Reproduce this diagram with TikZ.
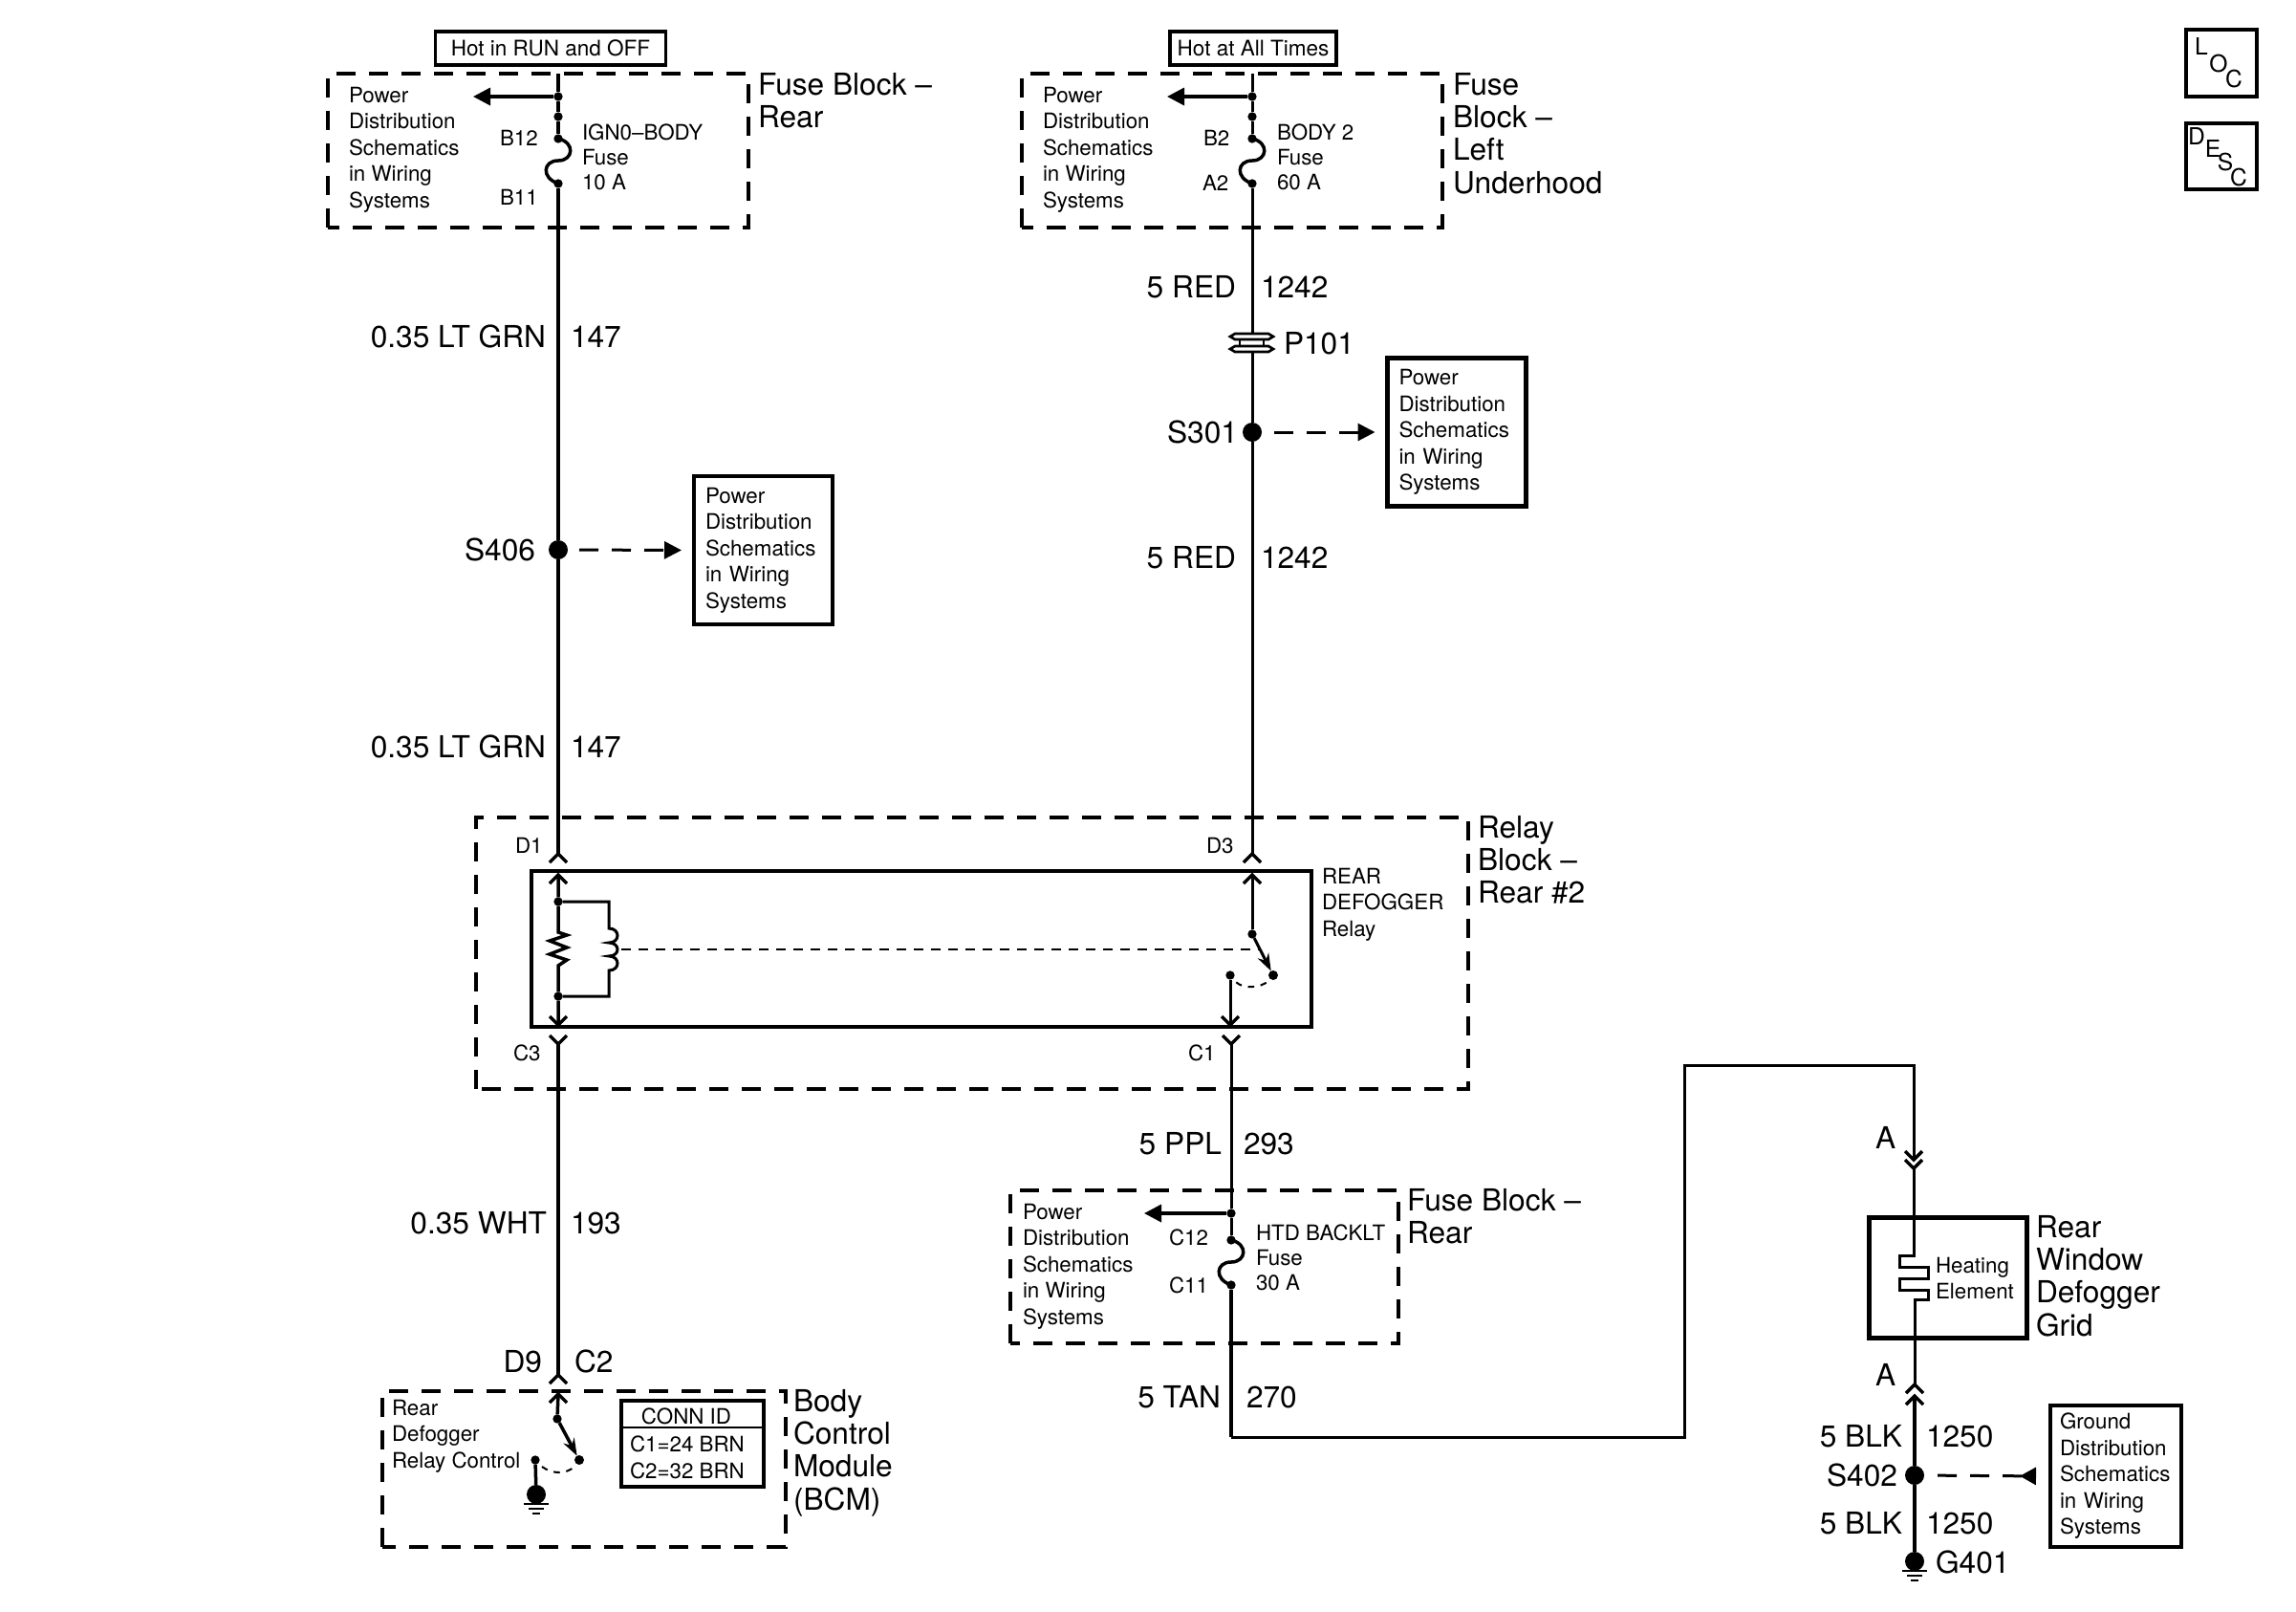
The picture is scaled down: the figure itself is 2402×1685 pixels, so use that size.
\documentclass[tikz,border=0pt]{standalone}
\usepackage{fontspec}
\setmainfont{TeX Gyre Heros}
\usetikzlibrary{arrows.meta}
\tikzset{
  wire/.style={line width=1.05pt},
  thinwire/.style={line width=0.9pt},
  frame/.style={line width=1.35pt},
  dbox/.style={line width=1.4pt,dash pattern=on 6.1pt off 4.1pt},
  lblbig/.style={font=\fontsize{9.5}{10.3}\selectfont,inner sep=0pt,outer sep=0pt,align=left},
  lblsmall/.style={font=\fontsize{6.7}{8.25}\selectfont,inner sep=0pt,outer sep=0pt,align=left},
  lblfuse/.style={font=\fontsize{6.7}{7.8}\selectfont,inner sep=0pt,outer sep=0pt,align=left},
  sdot/.style={circle,fill=black,inner sep=0pt,outer sep=0pt,minimum size=2.8pt},
  bdot/.style={circle,fill=black,inner sep=0pt,outer sep=0pt,minimum size=6pt},
  hotbox/.style={draw,line width=1pt,font=\fontsize{6.75}{8}\selectfont,inner sep=0pt,outer sep=0pt,minimum height=10.5pt},
  pbox/.style={draw,frame,font=\fontsize{6.7}{8.25}\selectfont,align=left,inner xsep=3.6pt,inner ysep=0pt,outer sep=0pt,text width=36.3pt,minimum height=46.5pt},
  locbox/.style={draw,frame,inner sep=0pt,outer sep=0pt,minimum width=22.2pt,minimum height=21pt},
  locl/.style={font=\fontsize{7.4}{8}\selectfont,inner sep=0pt},
  warrow/.style={wire,-{Triangle[length=5.4pt,width=5.4pt]}},
  darrow/.style={line width=0.9pt,dash pattern=on 6pt off 4.2pt,-{Triangle[length=5.4pt,width=5.4pt]}},
  thindash/.style={line width=0.6pt,dash pattern=on 3pt off 2.4pt},
  dotarc/.style={line width=0.6pt,dash pattern=on 2pt off 2pt},
  chevup/.pic={\draw[wire] (-9,9) -- (0,0) -- (9,9);},
  chevdown/.pic={\draw[wire] (-9,-9) -- (0,0) -- (9,-9);},
  fuselink/.pic={\draw[wire] (0,0) .. controls (18,4) and (16,23) .. (0,23) .. controls (-16,23) and (-18,41) .. (0,47);},
  gndsym/.pic={\draw[line width=0.7pt] (-13,0) -- (13,0) (-8,5) -- (8,5) (-4,10) -- (4,10);}
}
\begin{document}
\begin{tikzpicture}[x=0.3pt,y=-0.3pt]
\useasboundingbox (0,0) rectangle (2402,1685);
\fill[white] (0,0) rectangle (2402,1685);

%% ---------- dashed blocks
\draw[dbox] (343,238) -- (343,77) -- (783,77) -- (783,238) -- cycle;
\draw[dbox] (1069,238) -- (1069,77) -- (1509,77) -- (1509,238) -- cycle;
\draw[dbox] (498,1139) -- (498,855) -- (1536,855) -- (1536,1139) -- cycle;
\draw[dbox] (1057,1405) -- (1057,1245) -- (1463,1245) -- (1463,1405) -- cycle;
\draw[dbox] (400,1618) -- (400,1455) -- (822,1455) -- (822,1618) -- cycle;

%% ---------- header boxes
\node[hotbox,minimum width=72.3pt] (hotrun) at (576,50.5) {Hot in RUN and OFF};
\node[hotbox,minimum width=52.2pt] (hotall) at (1311,50.5) {Hot at All Times};

%% ---------- LOC / DESC
\node[locbox] (locb) at (2324,66) {};
\node[locl] (l1) at (2303,48) {L};
\node[locl] (l2) at (2321,66) {O};
\node[locl] (l3) at (2337,82) {C};
\node[locbox,minimum height=20.7pt] (descb) at (2324,163.5) {};
\node[locl] (d1) at (2298,142) {D};
\node[locl] (d2) at (2315,155) {E};
\node[locl] (d3) at (2328,169) {S};
\node[locl] (d4) at (2342,185) {C};

%% ---------- left feed: fuse block rear
\node[lblsmall,anchor=north west] (t1) at (365,91) {Power\\Distribution\\Schematics\\in Wiring\\Systems};
\node[lblsmall,anchor=base west] (b12) at (523,152) {B12};
\node[lblsmall,anchor=base west] (b11) at (523,214) {B11};
\node[lblfuse,anchor=north west] (ign) at (609,130) {IGN0–BODY\\Fuse\\10 A};
\node[lblbig,anchor=north west] (fb1) at (793,76) {Fuse Block –\\Rear};
\coordinate (w1top) at (584,77);
\node[sdot] (w1a) at (584,101) {};
\node[sdot] (w1b) at (584,122) {};
\node[sdot] (w1c) at (584,145) {};
\node[sdot] (w1d) at (584,192) {};
\coordinate (w1tip) at (495,101);
\draw[wire] (w1top) -- (w1a) -- (w1b) -- (w1c);
\draw[warrow] (w1a) -- (w1tip);
\path (w1c) pic {fuselink};
\node[bdot] (s406) at (584,575) {};
\coordinate (d1out) at (584,893);
\draw[wire] (w1d) -- (s406) -- (d1out);
\path (d1out) pic {chevup};
\node[lblbig,anchor=base east] (g1) at (571,363) {0.35 LT GRN};
\node[lblbig,anchor=base west] (g2) at (597,363) {147};
\node[lblbig,anchor=base east] (g3) at (571,792) {0.35 LT GRN};
\node[lblbig,anchor=base west] (g4) at (597,792) {147};
\node[lblbig,anchor=base east] (s406t) at (560,586) {S406};
\node[pbox] (box406) at (798.5,575.5) {Power\\Distribution\\Schematics\\in Wiring\\Systems};
\draw[darrow,shorten <=6.6pt,shorten >=3.9pt] (s406.center) -- (box406.west);

%% ---------- right feed: fuse block left underhood
\node[lblsmall,anchor=north west] (t2) at (1091,91) {Power\\Distribution\\Schematics\\in Wiring\\Systems};
\node[lblsmall,anchor=base west] (b2) at (1259,152) {B2};
\node[lblsmall,anchor=base west] (a2) at (1258,199) {A2};
\node[lblfuse,anchor=north west] (body) at (1336,130) {BODY 2\\Fuse\\60 A};
\node[lblbig,anchor=north west] (fb2) at (1520,76) {Fuse\\Block –\\Left\\Underhood};
\coordinate (w2top) at (1310,77);
\node[sdot] (w2a) at (1310,101) {};
\node[sdot] (w2b) at (1310,122) {};
\node[sdot] (w2c) at (1310,145) {};
\node[sdot] (w2d) at (1310,192) {};
\coordinate (w2tip) at (1221,101);
\draw[thinwire] (w2top) -- (w2a) -- (w2b) -- (w2c);
\draw[warrow] (w2a) -- (w2tip);
\path (w2c) pic {fuselink};
\coordinate (p1a) at (1310,349);
\coordinate (p1b) at (1310,368);
\draw[thinwire] (w2d) -- (p1a);
\draw[line width=0.8pt] (1287,352) -- (1292,349) -- (1327,349) -- (1332,352) -- (1327,355) -- (1292,355) -- cycle;
\draw[line width=0.8pt] (1287,365) -- (1292,362) -- (1327,362) -- (1332,365) -- (1327,368) -- (1292,368) -- cycle;
\draw[line width=0.8pt] (1297,355) -- (1297,362) (1322,355) -- (1322,362);
\node[lblbig,anchor=base west] (p101) at (1343,370) {P101};
\node[bdot] (s301) at (1310,452) {};
\coordinate (d3out) at (1310,893);
\draw[thinwire] (p1b) -- (s301) -- (d3out);
\path (d3out) pic {chevup};
\node[lblbig,anchor=base east] (r1) at (1293,311) {5 RED};
\node[lblbig,anchor=base west] (r2) at (1319,311) {1242};
\node[lblbig,anchor=base east] (r3) at (1293,594) {5 RED};
\node[lblbig,anchor=base west] (r4) at (1319,594) {1242};
\node[lblbig,anchor=base east] (s301t) at (1295,463) {S301};
\node[pbox] (box301) at (1524,452) {Power\\Distribution\\Schematics\\in Wiring\\Systems};
\draw[darrow,shorten <=6.9pt,shorten >=3.9pt] (s301.center) -- (box301.west);

%% ---------- relay
\node[draw,frame,inner sep=0pt,outer sep=0pt,minimum width=244.8pt,minimum height=48.9pt] (relay) at (964,992.5) {};
\node[lblsmall,anchor=base west] (d1t) at (539,892) {D1};
\node[lblsmall,anchor=base west] (d3t) at (1262,892) {D3};
\node[lblsmall,anchor=base west] (c3t) at (537,1109) {C3};
\node[lblsmall,anchor=base west] (c1t) at (1243,1109) {C1};
\node[lblsmall,anchor=north west] (rrt) at (1383,908) {REAR\\DEFOGGER\\Relay};
\node[lblbig,anchor=north west] (rbt) at (1546,853) {Relay\\Block –\\Rear \#2};
% coil side
\coordinate (c1in) at (584,915);
\node[sdot] (rt) at (584,943) {};
\node[sdot] (rb) at (584,1042) {};
\coordinate (c3in) at (584,1072);
\draw[wire] (c1in) -- (rt) -- (584,975) -- (593,978) -- (575,984) -- (593,991) -- (575,998) -- (593,1004) -- (584,1010) -- (rb) -- (c3in);
\path (c1in) pic {chevup};
\path (c3in) pic {chevdown};
\coordinate (coilt) at (637,971);
\coordinate (coilb) at (637,1015);
\draw[thinwire] (rt) -| (coilt) .. controls (649,971) and (649,986) .. (637,986) .. controls (649,986) and (649,1000) .. (637,1000) .. controls (649,1000) and (649,1015) .. (coilb) |- (rb);
% contact side
\coordinate (d3in) at (1310,915);
\node[sdot] (armt) at (1310,977) {};
\node[sdot,minimum size=3pt] (armb) at (1332,1020) {};
\node[sdot] (cont) at (1287,1020) {};
\coordinate (c1in2) at (1287,1072);
\draw[thinwire] (d3in) -- (armt);
\path (d3in) pic {chevup};
\draw[thinwire,-{Stealth[length=5.4pt,width=3.8pt]}] (armt) -- (armb);
\draw[thinwire] (cont) -- (c1in2);
\path (c1in2) pic {chevdown};
\draw[dotarc] (cont.south east) ++(3,4) .. controls (1300,1034) and (1318,1034) .. (1327,1026);
\coordinate (coilmid) at (650,993);
\coordinate (armmid) at (1318,993);
\draw[thindash] (coilmid) -- (armmid);
% outer lower connectors
\coordinate (c3out) at (584,1092);
\coordinate (c1out) at (1288,1092);
\path (c3out) pic {chevdown};
\path (c1out) pic {chevdown};

%% ---------- BCM
\coordinate (d9out) at (584,1438);
\draw[wire] (c3out) -- (d9out);
\path (d9out) pic {chevup};
\node[lblbig,anchor=base east] (wh1) at (572,1290) {0.35 WHT};
\node[lblbig,anchor=base west] (wh2) at (597,1290) {193};
\node[lblbig,anchor=base east] (d9) at (567,1435) {D9};
\node[lblbig,anchor=base west] (c2) at (601,1435) {C2};
\node[lblsmall,anchor=north west] (rdr) at (410,1464) {Rear\\Defogger\\Relay Control};
\node[lblbig,anchor=north west] (bcm) at (830,1453) {Body\\Control\\Module\\(BCM)};
\coordinate (d9in) at (584,1458);
\node[sdot] (bt) at (583,1484) {};
\node[sdot,minimum size=3pt] (bb) at (606,1527) {};
\node[sdot] (bc) at (560,1527) {};
\node[bdot] (bg) at (561,1563) {};
\draw[wire] (d9in) -- (bt);
\path (d9in) pic {chevup};
\draw[wire,-{Stealth[length=5.4pt,width=3.8pt]}] (bt) -- (bb);
\draw[wire] (bc) -- (bg);
\draw[dotarc] (567,1534) .. controls (578,1542) and (592,1542) .. (601,1534);
\path (561,1573) pic {gndsym};
\node[draw,frame,inner sep=0pt,outer sep=0pt,minimum width=44.7pt,minimum height=27pt] (conn) at (724.5,1510) {};
\draw[line width=0.65pt] (conn.west |- 0,1493) -- (conn.east |- 0,1493);
\node[lblsmall] (connid) at (718,1481) {CONN ID};
\node[lblsmall,anchor=north west,font=\fontsize{6.7}{8.4}\selectfont] (connt) at (659,1502) {C1=24 BRN\\C2=32 BRN};

%% ---------- fuse block rear (HTD BACKLT)
\node[sdot] (w3a) at (1288,1269) {};
\node[sdot] (w3b) at (1288,1297) {};
\node[sdot] (w3c) at (1288,1344) {};
\coordinate (w3tip) at (1197,1269);
\draw[thinwire] (c1out) -- (w3a) -- (w3b);
\draw[warrow] (w3a) -- (w3tip);
\path (w3b) pic {fuselink};
\node[lblsmall,anchor=north west] (t3) at (1070,1259) {Power\\Distribution\\Schematics\\in Wiring\\Systems};
\node[lblsmall,anchor=base west] (c12) at (1223,1302) {C12};
\node[lblsmall,anchor=base west] (c11) at (1223,1352) {C11};
\node[lblfuse,anchor=north west] (htd) at (1314,1281) {HTD BACKLT\\Fuse\\30 A};
\node[lblbig,anchor=north west] (fb3) at (1472,1243) {Fuse Block –\\Rear};
\node[lblbig,anchor=base east] (pp1) at (1278,1207) {5 PPL};
\node[lblbig,anchor=base west] (pp2) at (1301,1207) {293};
\node[lblbig,anchor=base east] (tn1) at (1277,1472) {5 TAN};
\node[lblbig,anchor=base west] (tn2) at (1304,1472) {270};

%% ---------- long run to the grid
\coordinate (cn1) at (1288,1503);
\coordinate (cn2) at (1762,1503);
\coordinate (cn3) at (1762,1114);
\coordinate (cn4) at (2002,1114);
\coordinate (ain) at (2002,1213);
\draw[wire] (w3c) -- (cn1);
\draw[thinwire] (cn1) -- (cn2) -- (cn3) -- (cn4) -- (ain);
\path (ain) pic {chevdown};

%% ---------- grid
\coordinate (aout) at (2002,1222);
\path (aout) pic {chevdown};
\node[draw,line width=1.5pt,inner sep=0pt,outer sep=0pt,minimum width=49.5pt,minimum height=37.8pt] (grid) at (2037.5,1336) {};
\draw[thinwire] (aout) -- (2002,1313) -- (1987,1313) -- (1987,1325) -- (2017,1325) -- (2017,1337) -- (1987,1337) -- (1987,1349) -- (2017,1349) -- (2017,1359) -- (2003,1359) -- (2003,1448);
\node[lblsmall,anchor=north west] (heat) at (2025,1315) {Heating\\Element};
\node[lblbig,anchor=north west] (rwd) at (2130,1271) {Rear\\Window\\Defogger\\Grid};
\node[lblbig,anchor=base west] (a1) at (1962,1201) {A};
\node[lblbig,anchor=base west] (a2b) at (1962,1449) {A};
\coordinate (bout) at (2003,1448);
\path (bout) pic {chevup};
\coordinate (bin) at (2003,1460);
\path (bin) pic {chevup};
\node[bdot] (s402) at (2003,1543) {};
\node[bdot] (g401) at (2003,1633) {};
\draw[wire] (bin) -- (s402) -- (g401);
\path (2003,1643) pic {gndsym};
\node[lblbig,anchor=base east] (k1) at (1990,1513) {5 BLK};
\node[lblbig,anchor=base west] (k2) at (2015,1513) {1250};
\node[lblbig,anchor=base east] (k3) at (1990,1604) {5 BLK};
\node[lblbig,anchor=base west] (k4) at (2015,1604) {1250};
\node[lblbig,anchor=base east] (s402t) at (1985,1554) {S402};
\node[lblbig,anchor=base west] (g401t) at (2025,1645) {G401};
\node[pbox,text width=35.1pt,inner xsep=3pt,minimum height=44.4pt] (gbox) at (2213.5,1544) {Ground\\Distribution\\Schematics\\in Wiring\\Systems};
\draw[line width=0.9pt,dash pattern=on 6pt off 4.2pt,-{Triangle[reversed,length=5.1pt,width=5.4pt]},shorten <=7.2pt,shorten >=4.5pt] (s402.center) -- (gbox.west);
\end{tikzpicture}
\end{document}
